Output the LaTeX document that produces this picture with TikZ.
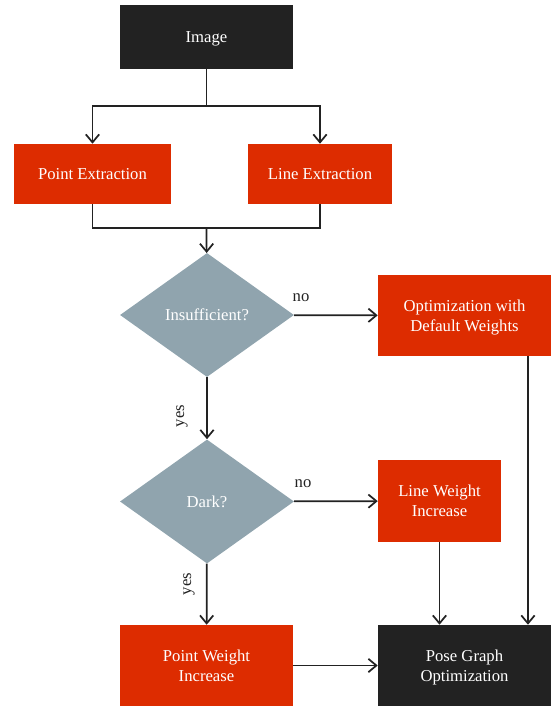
\documentclass[tikz,border=0pt]{standalone}
\usepackage{fontspec}
\setmainfont{Liberation Serif}
\usetikzlibrary{shapes.geometric,arrows.meta}
\definecolor{darkbox}{HTML}{222222}
\definecolor{redbox}{HTML}{DD2C00}
\definecolor{greybox}{HTML}{90A4AE}
\definecolor{linecol}{HTML}{222222}

\begin{document}
\begin{tikzpicture}[x=0.75pt,y=-0.75pt,
    font=\fontsize{12.5}{15}\selectfont,
    box/.style={rectangle, text=white, align=center, inner sep=0pt, text depth=0pt},
    darknode/.style={box, fill=darkbox},
    rednode/.style={box, fill=redbox},
    decision/.style={diamond, fill=greybox, text=white, inner sep=0pt, text depth=0pt,
      minimum width=130.5pt, minimum height=93pt},
    arr/.style={draw=linecol, line width=1.3pt, -{Straight Barb[length=6pt,width=10pt]}},
    conn/.style={draw=linecol, line width=1.3pt},
    lbl/.style={text=linecol, inner sep=0pt}]
      \useasboundingbox (0,0) rectangle (552,706);
      % boxes
      \node[darknode, minimum width=129.75pt, minimum height=48pt] (img) at (206.5,37) {Image};
      \node[rednode, minimum width=117.75pt, minimum height=45pt] (pe) at (92.5,174) {Point Extraction};
      \node[rednode, minimum width=108pt, minimum height=45pt] (le) at (320,174) {Line Extraction};
      \node[decision] (ins) at (207,315) {Insufficient?};
      \node[rednode, minimum width=129.75pt, minimum height=60.75pt] (opt) at (464.5,315.5) {Optimization with\\Default Weights};
      \node[decision] (dark) at (207,501.5) {Dark?};
      \node[rednode, minimum width=92.25pt, minimum height=61.5pt] (lwi) at (439.5,501) {Line Weight\\Increase};
      \node[rednode, minimum width=129.75pt, minimum height=60.75pt] (pwi) at (206.5,665.5) {Point Weight\\Increase};
      \node[darknode, minimum width=129.75pt, minimum height=60.75pt] (pose) at (464.5,665.5) {Pose Graph\\Optimization};
      % joints
      \coordinate (split) at (206.5,106);
      \coordinate (merge) at (206.5,228);
      % connectors
      \draw[conn] (img) -- (split);
      \draw[arr] (split) -| (pe);
      \draw[arr] (split) -| (le);
      \draw[conn] (pe) |- (merge);
      \draw[conn] (le) |- (merge);
      \draw[arr] (merge) -- (ins);
      \draw[arr] (ins) -- (opt);
      \draw[arr] (ins) -- (dark);
      \draw[arr] (dark) -- (lwi);
      \draw[arr] (dark) -- (pwi);
      \draw[arr] (lwi) -- (lwi.south |- pose.north);
      \draw[arr] ([xshift=47.6pt]opt.south) -- ([xshift=47.6pt]pose.north);
      \draw[arr] (pwi) -- (pose);
      % labels
      \node[lbl] (no1) at (301,298) {no};
      \node[lbl] (no2) at (303,484) {no};
      \node[lbl, rotate=90] (yes1) at (182,416) {yes};
      \node[lbl, rotate=90] (yes2) at (189,584) {yes};
    \end{tikzpicture}
\end{document}
